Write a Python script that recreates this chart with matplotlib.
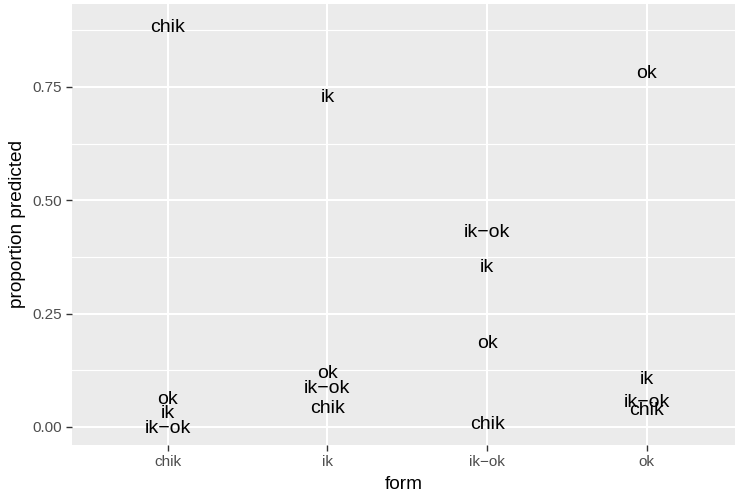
import matplotlib.pyplot as plt
import numpy as np

plt.rcParams['font.family'] = ['Liberation Sans', 'DejaVu Sans']

forms = ['chik', 'ik', 'ik−ok', 'ok']
# predicted label per form, and its proportion
pred_chik = [0.886, 0.044, 0.010, 0.040]
pred_ik = [0.034, 0.732, 0.357, 0.110]
pred_ikok = [0.000, 0.090, 0.434, 0.059]
pred_ok = [0.064, 0.123, 0.189, 0.783]

preds = {'chik': pred_chik, 'ik': pred_ik, 'ik−ok': pred_ikok, 'ok': pred_ok}

fig = plt.figure(figsize=(7.35, 4.95), dpi=100)
ax = fig.add_axes([72 / 735, 50 / 495, 663 / 735, 441 / 495])
ax.set_facecolor('#EBEBEB')

xpos = np.arange(len(forms))
for lab, vals in preds.items():
    for x, v in zip(xpos, vals):
        ax.text(x, v, lab, ha='center', va='center_baseline', fontsize=14, color='black')

ax.set_xlim(-0.6, 3.553)
ax.set_ylim(-0.04, 0.933)
ax.set_xticks(xpos)
ax.set_xticklabels(forms)
ax.set_yticks([0, 0.25, 0.5, 0.75])
ax.set_yticklabels(['0.00', '0.25', '0.50', '0.75'])
ax.set_yticks([0.125, 0.375, 0.625, 0.875], minor=True)

ax.grid(which='major', color='white', linewidth=1.5)
ax.grid(which='minor', axis='y', color='white', linewidth=0.8)
ax.set_axisbelow(True)
for s in ax.spines.values():
    s.set_visible(False)
ax.tick_params(which='major', length=4, width=1, color='#333333',
               labelsize=11, labelcolor='#4D4D4D', pad=3)
ax.tick_params(which='minor', length=0)

ax.set_xlabel('form', fontsize=13.7, labelpad=5)
ax.set_ylabel('proportion predicted', fontsize=13.7, labelpad=5)

fig.savefig('out.png', dpi=100)
